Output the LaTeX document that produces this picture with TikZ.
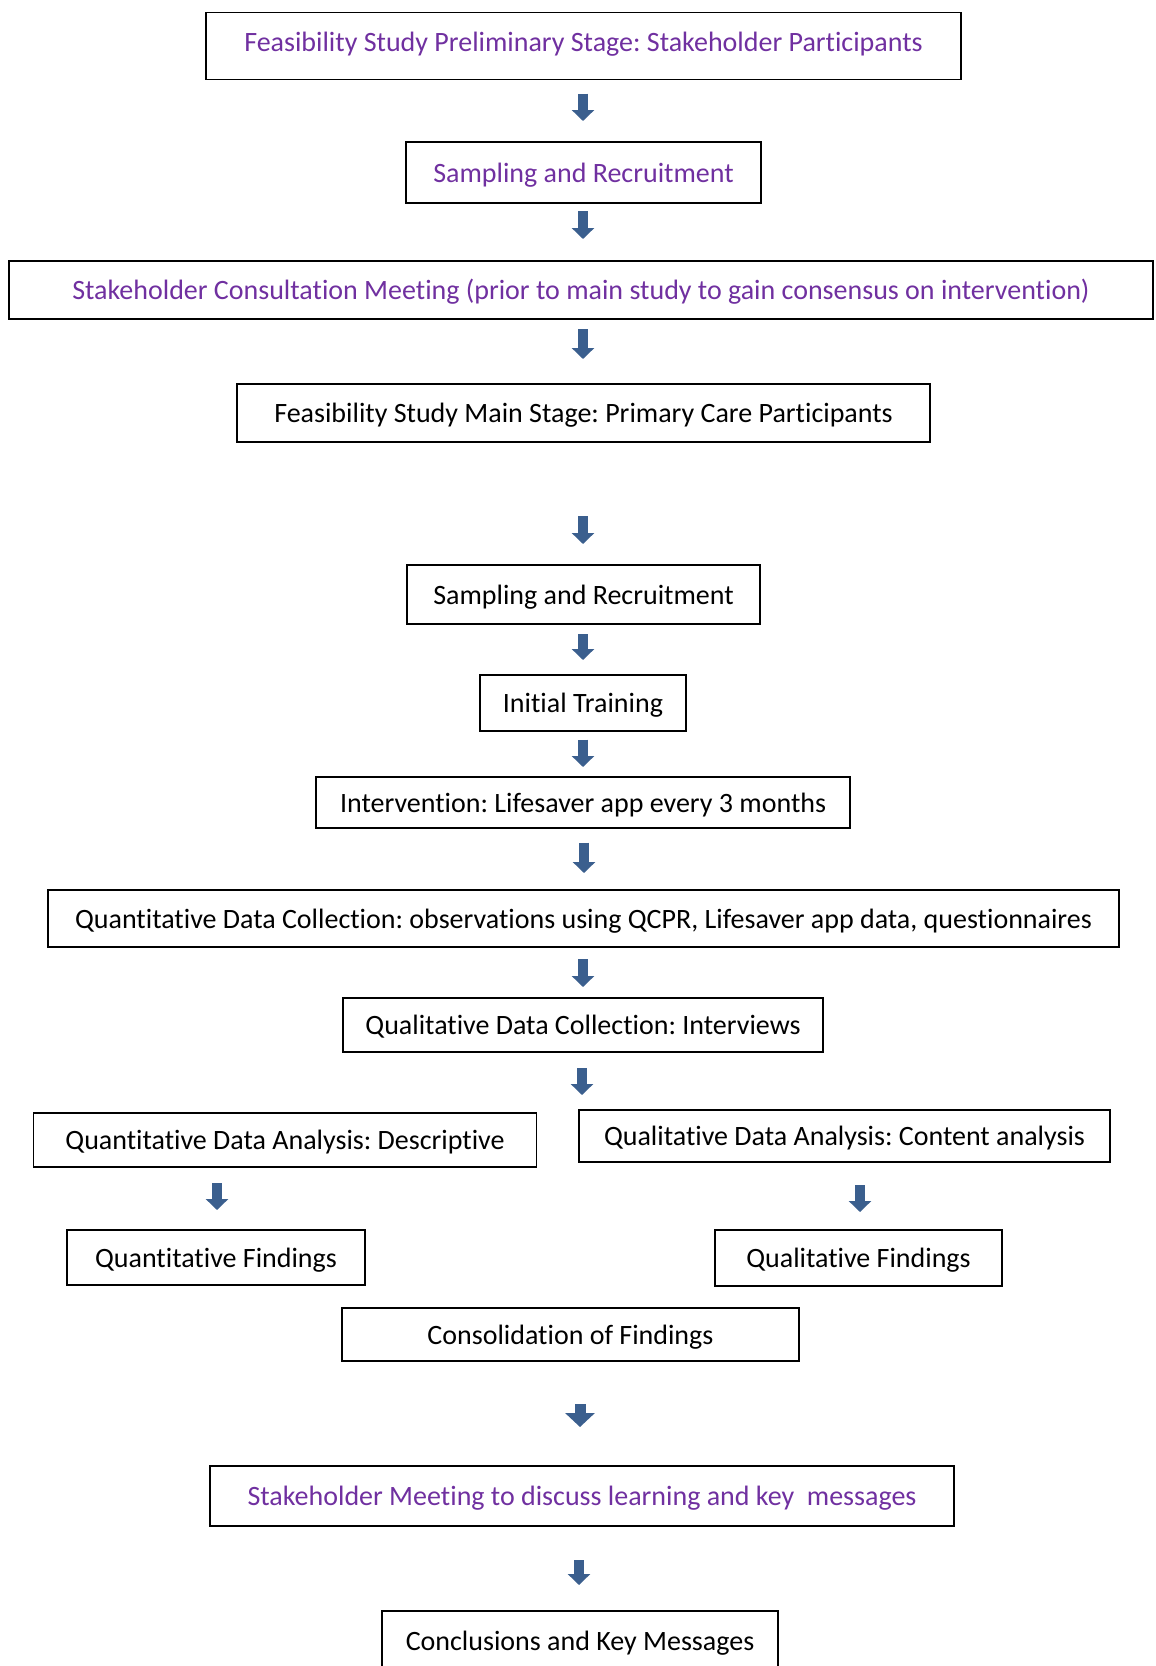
\documentclass[tikz,border=0pt]{standalone}
\usepackage{fontspec}
\setmainfont[Ligatures=NoCommon]{Carlito}
\usetikzlibrary{arrows.meta}
\definecolor{stagepurple}{HTML}{7030A0}
\definecolor{flowblue}{HTML}{3B5F8E}
\frenchspacing
\begin{document}
\begin{tikzpicture}[x=1pt,y=-1pt,
  box/.style={draw=black, line width=1.6pt, inner sep=0pt,
    font=\fontsize{28}{32}\selectfont, align=center,
    text height=25pt, text depth=6pt},
  stage/.style={box, text=stagepurple},
  flow/.style={draw=flowblue, line width=10pt,
    -{Triangle[width=22pt,length=11pt]}},
  wideflow/.style={draw=flowblue, line width=11pt,
    -{Triangle[width=29pt,length=14pt]}}]
\useasboundingbox (0,0) rectangle (1156,1666);
\clip (0,0) rectangle (1156,1666);

% preliminary stage
\node[stage, minimum width=755, minimum height=67, text height=16pt]
  (pre) at (583.5,46)
  {Feasibility Study Preliminary Stage: Stakeholder Participants};
\node[stage, minimum width=355, minimum height=61] (samp1) at (583.5,172.5)
  {Sampling and Recruitment};
\node[stage, minimum width=1144, minimum height=58] (consult) at (581,290)
  {Stakeholder Consultation Meeting (prior to main study to gain consensus on intervention)};

% main stage
\node[box, minimum width=693, minimum height=58] (main) at (583.5,413)
  {Feasibility Study Main Stage: Primary Care Participants};
\node[box, minimum width=353, minimum height=59] (samp2) at (583.5,594.5)
  {Sampling and Recruitment};
\node[box, minimum width=206, minimum height=56] (train) at (583,703)
  {Initial Training};
\node[box, minimum width=534, minimum height=51] (interv) at (583,802.5)
  {Intervention: Lifesaver app every 3 months};
\node[box, minimum width=1071, minimum height=57] (quantc) at (583.5,918.5)
  {Quantitative Data Collection: observations using QCPR, Lifesaver app data, questionnaires};
\node[box, minimum width=480, minimum height=54] (qualc) at (583,1025)
  {Qualitative Data Collection: Interviews};

% analysis branches
\node[box, minimum width=503, minimum height=54] (quanta) at (285,1140)
  {Quantitative Data Analysis: Descriptive};
\node[box, minimum width=531, minimum height=52] (quala) at (844.5,1136)
  {Qualitative Data Analysis: Content analysis};
\node[box, minimum width=298, minimum height=55] (quantf) at (216,1257.5)
  {Quantitative Findings};
\node[box, minimum width=287, minimum height=56] (qualf) at (858.5,1258)
  {Qualitative Findings};
\node[box, minimum width=457, minimum height=53] (consol) at (570.5,1334.5)
  {Consolidation of Findings};

% closing stage
\node[stage, minimum width=744, minimum height=60] (meet) at (582,1496)
  {Stakeholder Meeting to discuss learning and key\ \ messages};
\node[box, minimum width=396, minimum height=60] (concl) at (580,1641)
  {Conclusions and Key Messages};

% block arrows between the stages
\coordinate (f1a) at (583,93.5);   \coordinate (f1b) at (583,121);
\coordinate (f2a) at (583,211);    \coordinate (f2b) at (583,239);
\coordinate (f3a) at (583,329);    \coordinate (f3b) at (583,359);
\coordinate (f4a) at (583,516);    \coordinate (f4b) at (583,544);
\coordinate (f5a) at (583,634);    \coordinate (f5b) at (583,660);
\coordinate (f6a) at (583,739.5);  \coordinate (f6b) at (583,767);
\coordinate (f7a) at (584,842.5);  \coordinate (f7b) at (584,873);
\coordinate (f8a) at (583,959);    \coordinate (f8b) at (583,987);
\coordinate (f9a) at (582,1068);   \coordinate (f9b) at (582,1095);
\coordinate (f10a) at (217,1183);  \coordinate (f10b) at (217,1210);
\coordinate (f11a) at (860,1185);  \coordinate (f11b) at (860,1212);
\coordinate (f12a) at (580,1404);  \coordinate (f12b) at (580,1427);
\coordinate (f13a) at (579,1560);  \coordinate (f13b) at (579,1585);
\foreach \i in {1,...,11,13} \draw[flow] (f\i a) -- (f\i b);
\draw[wideflow] (f12a) -- (f12b);
\end{tikzpicture}
\end{document}
